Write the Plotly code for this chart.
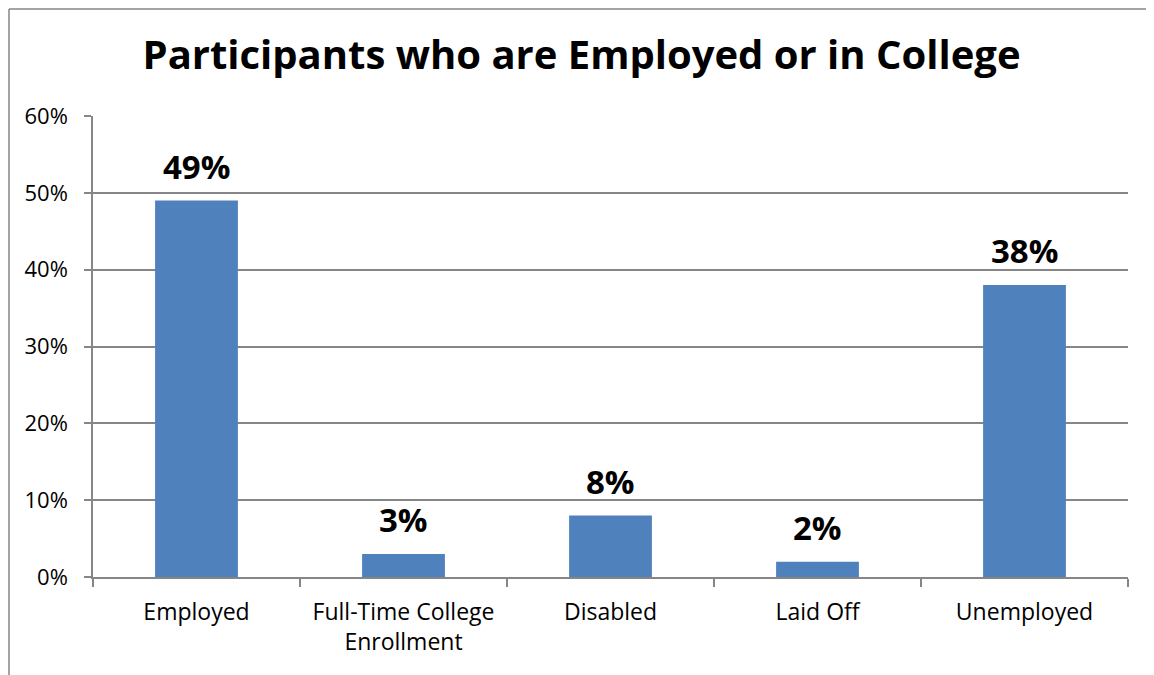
import plotly.graph_objects as go

# chart data
categories = ["Employed", "Full-Time College<br>Enrollment", "Disabled", "Laid Off", "Unemployed"]
shares = [0.49, 0.03, 0.08, 0.02, 0.38]
y_ticks = [0, 0.1, 0.2, 0.3, 0.4, 0.5, 0.6]

FONT = "Open Sans"
GRID = "#868686"
W, H = 1154, 675
L, R, T, B = 85, 34, 108, 106   # the page body adds 8px on top/left

fig = go.Figure()
fig.add_trace(go.Bar(
    x=categories,
    y=shares,
    marker=dict(color="#4F81BD", line=dict(width=0)),
    width=0.4,
    hoverinfo="skip",
))

# data labels above the bars
for c, v in zip(categories, shares):
    fig.add_annotation(
        x=c, y=v, text="<b>%d%%</b>" % round(v * 100),
        showarrow=False, yanchor="bottom", yshift=10,
        font=dict(family=FONT, size=33, color="black"),
    )

fig.update_layout(
    width=W,
    height=H,
    paper_bgcolor="white",
    plot_bgcolor="white",
    margin=dict(l=L, r=R, t=T, b=B),
    showlegend=False,
    title=dict(
        text="<b>Participants who are Employed or in College</b>",
        x=0.497, xanchor="center", y=0.930, yanchor="middle",
        font=dict(family=FONT, size=40, color="black"),
    ),
    font=dict(family=FONT, size=23, color="black"),
    xaxis=dict(
        showline=True, linecolor=GRID, linewidth=1.5,
        ticks="outside", tickson="boundaries", ticklen=8, tickcolor=GRID, tickwidth=1.5,
        ticklabelstandoff=14,
        showgrid=False,
    ),
    yaxis=dict(
        range=[0, 0.6],
        tickvals=y_ticks,
        tickformat=".0%",
        tickfont=dict(size=22),
        showline=True, linecolor=GRID, linewidth=1.5,
        ticks="outside", ticklen=7, tickcolor=GRID, tickwidth=1.5,
        ticklabelstandoff=12,
        showgrid=True, gridcolor=GRID, gridwidth=1.5,
        zeroline=False,
    ),
)

# outer chart border (only left and top edges fall inside the picture)
pw, ph = W - L - R, H - T - B
bx = (1 - L) / pw
by = (ph + T - 1) / ph
fig.add_shape(type="line", xref="paper", yref="paper",
              x0=bx, x1=bx, y0=-B / ph - 0.05, y1=by,
              line=dict(color=GRID, width=1.5))
fig.add_shape(type="line", xref="paper", yref="paper",
              x0=bx, x1=1 + R / pw + 0.05, y0=by, y1=by,
              line=dict(color=GRID, width=1.5))

fig.write_html("out.html")
